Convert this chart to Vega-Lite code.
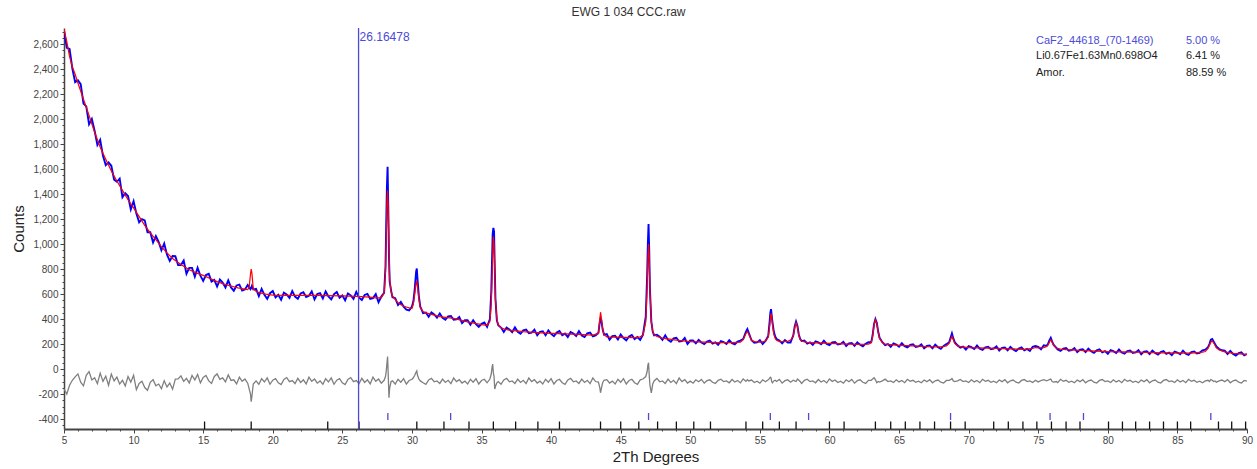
{
"$schema": "https://vega.github.io/schema/vega-lite/v6.json",
"width": 1183, "height": 401,
"autosize": "none",
"padding": {"left": 64, "top": 28, "right": 10, "bottom": 40},
"background": "white",
"title": {"text": "EWG 1 034 CCC.raw", "fontSize": 12, "font": "Liberation Sans", "fontWeight": "normal", "color": "#333", "offset": 8, "dx": -27},
"config": {"view": {"stroke": null}, "font": "Liberation Sans",
  "axis": {"labelFont": "Liberation Sans", "titleFont": "Liberation Sans", "labelColor": "#333", "titleColor": "#222", "titleFontWeight": "normal", "domainColor": "#444", "tickColor": "#444", "grid": false, "labelFontSize": 11, "labelOverlap": false}},
"datasets": {
"obs": [
{"x":5.0,"o":2710,"d":-160},{"x":5.2,"o":2571,"d":-200},{"x":5.4,"o":2563,"d":-130},{"x":5.6,"o":2406,"d":-90},{"x":5.8,"o":2297,"d":-63},{"x":6.0,"o":2311,"d":-39},{"x":6.2,"o":2281,"d":-105},{"x":6.4,"o":2125,"d":-135},{"x":6.6,"o":2102,"d":-51},{"x":6.8,"o":1960,"d":-21},{"x":7.0,"o":2002,"d":-87},{"x":7.2,"o":1907,"d":-69},{"x":7.4,"o":1794,"d":-117},{"x":7.6,"o":1835,"d":-33},{"x":7.8,"o":1707,"d":-99},{"x":8.0,"o":1632,"d":-57},{"x":8.2,"o":1654,"d":-130},{"x":8.4,"o":1627,"d":-40},{"x":8.6,"o":1516,"d":-95},{"x":8.8,"o":1499,"d":-65},{"x":9.0,"o":1524,"d":-120},{"x":9.2,"o":1376,"d":-90},{"x":9.4,"o":1408,"d":-135},{"x":9.6,"o":1385,"d":-60},{"x":9.8,"o":1278,"d":-105},{"x":10.0,"o":1344,"d":-50},
{"x":10.2,"o":1245,"d":-165},{"x":10.4,"o":1175,"d":-116},{"x":10.6,"o":1200,"d":-98},{"x":10.8,"o":1190,"d":-148},{"x":11.0,"o":1095,"d":-170},{"x":11.2,"o":1095,"d":-107},{"x":11.4,"o":1012,"d":-85},{"x":11.6,"o":1065,"d":-134},{"x":11.8,"o":1018,"d":-120},{"x":12.0,"o":950,"d":-157},{"x":12.2,"o":1005,"d":-93},{"x":12.4,"o":915,"d":-143},{"x":12.6,"o":865,"d":-112},{"x":12.8,"o":905,"d":-161},{"x":13.0,"o":903,"d":-80},{"x":13.2,"o":832,"d":-79},{"x":13.4,"o":832,"d":-55},{"x":13.6,"o":868,"d":-99},{"x":13.8,"o":763,"d":-75},{"x":14.0,"o":810,"d":-111},{"x":14.2,"o":810,"d":-51},{"x":14.4,"o":740,"d":-87},{"x":14.6,"o":810,"d":-43},{"x":14.8,"o":747,"d":-111},{"x":15.0,"o":705,"d":-67},
{"x":15.2,"o":752,"d":-51},{"x":15.4,"o":762,"d":-95},{"x":15.6,"o":700,"d":-115},{"x":15.8,"o":714,"d":-59},{"x":16.0,"o":660,"d":-39},{"x":16.2,"o":716,"d":-83},{"x":16.4,"o":692,"d":-71},{"x":16.6,"o":652,"d":-103},{"x":16.8,"o":710,"d":-47},{"x":17.0,"o":653,"d":-91},{"x":17.2,"o":627,"d":-86},{"x":17.4,"o":669,"d":-119},{"x":17.6,"o":676,"d":-65},{"x":17.8,"o":628,"d":-98},{"x":18.0,"o":636,"d":-80},{"x":18.2,"o":672,"d":-113},{"x":18.4,"o":640,"d":-200},{"x":18.45,"o":650,"d":-262},{"x":18.5,"o":665,"d":-220},{"x":18.6,"o":637,"d":-120},{"x":18.8,"o":642,"d":-95},{"x":19.0,"o":584,"d":-122},{"x":19.2,"o":642,"d":-77},{"x":19.4,"o":594,"d":-104},{"x":19.6,"o":562,"d":-71},{"x":19.8,"o":607,"d":-122},{"x":20.0,"o":624,"d":-89},
{"x":20.2,"o":573,"d":-77},{"x":20.4,"o":594,"d":-110},{"x":20.6,"o":555,"d":-125},{"x":20.8,"o":611,"d":-83},{"x":21.0,"o":597,"d":-68},{"x":21.2,"o":569,"d":-101},{"x":21.4,"o":625,"d":-92},{"x":21.6,"o":580,"d":-116},{"x":21.8,"o":562,"d":-74},{"x":22.0,"o":604,"d":-107},{"x":22.2,"o":615,"d":-86},{"x":22.4,"o":576,"d":-119},{"x":22.6,"o":586,"d":-65},{"x":22.8,"o":621,"d":-98},{"x":23.0,"o":558,"d":-80},{"x":23.2,"o":600,"d":-113},{"x":23.4,"o":607,"d":-95},{"x":23.6,"o":565,"d":-122},{"x":23.8,"o":621,"d":-77},{"x":24.0,"o":581,"d":-104},{"x":24.2,"o":557,"d":-71},{"x":24.4,"o":599,"d":-122},{"x":24.6,"o":616,"d":-89},{"x":24.8,"o":570,"d":-77},{"x":25.0,"o":589,"d":-110},{"x":25.2,"o":550,"d":-125},{"x":25.4,"o":605,"d":-83},{"x":25.6,"o":590,"d":-68},{"x":25.8,"o":562,"d":-101},{"x":26.0,"o":618,"d":-92},{"x":26.2,"o":571,"d":-116},{"x":26.4,"o":553,"d":-74},{"x":26.6,"o":593,"d":-107},{"x":26.8,"o":602,"d":-86},{"x":27.0,"o":561,"d":-119},{"x":27.2,"o":568,"d":-65},{"x":27.4,"o":600,"d":-98},{"x":27.6,"o":535,"d":-80},{"x":27.8,"o":580,"d":-113},
{"x":28.0,"o":610,"d":-90},{"x":28.1,"o":820,"d":-60},{"x":28.15,"o":1150,"d":-20},{"x":28.2,"o":1450,"d":40},{"x":28.25,"o":1620,"d":100},{"x":28.3,"o":1300,"d":-60},{"x":28.35,"o":900,"d":-230},{"x":28.4,"o":700,"d":-150},{"x":28.5,"o":630,"d":-100},{"x":28.6,"o":575,"d":-95},{"x":28.8,"o":567,"d":-120},{"x":29.0,"o":512,"d":-82},{"x":29.2,"o":537,"d":-105},{"x":29.4,"o":500,"d":-77},{"x":29.6,"o":475,"d":-120},{"x":29.8,"o":470,"d":-92},{"x":30.0,"o":500,"d":-82},{"x":30.1,"o":540,"d":-70},{"x":30.2,"o":640,"d":-50},{"x":30.3,"o":780,"d":-25},{"x":30.35,"o":805,"d":-15},{"x":30.4,"o":720,"d":-50},{"x":30.5,"o":580,"d":-80},{"x":30.6,"o":500,"d":-95},{"x":30.8,"o":448,"d":-110},
{"x":31.0,"o":452,"d":-122},{"x":31.2,"o":419,"d":-87},{"x":31.4,"o":453,"d":-75},{"x":31.6,"o":437,"d":-102},{"x":31.8,"o":411,"d":-95},{"x":32.0,"o":445,"d":-115},{"x":32.2,"o":410,"d":-80},{"x":32.4,"o":394,"d":-107},{"x":32.6,"o":421,"d":-90},{"x":32.8,"o":425,"d":-117},{"x":33.0,"o":395,"d":-72},{"x":33.2,"o":397,"d":-100},{"x":33.4,"o":416,"d":-85},{"x":33.6,"o":367,"d":-112},{"x":33.8,"o":390,"d":-97},{"x":34.0,"o":390,"d":-120},{"x":34.2,"o":355,"d":-82},{"x":34.4,"o":391,"d":-105},{"x":34.6,"o":359,"d":-77},{"x":34.8,"o":338,"d":-120},{"x":35.0,"o":362,"d":-92},{"x":35.2,"o":372,"d":-82},{"x":35.4,"o":338,"d":-110},
{"x":35.6,"o":400,"d":-80},{"x":35.7,"o":620,"d":-40},{"x":35.75,"o":850,"d":10},{"x":35.8,"o":1080,"d":40},{"x":35.85,"o":1130,"d":-30},{"x":35.9,"o":1100,"d":-60},{"x":35.95,"o":820,"d":-160},{"x":36.0,"o":560,"d":-140},{"x":36.1,"o":390,"d":-110},{"x":36.2,"o":350,"d":-100},
{"x":36.4,"o":332,"d":-122},{"x":36.6,"o":297,"d":-87},{"x":36.8,"o":332,"d":-75},{"x":37.0,"o":317,"d":-102},{"x":37.2,"o":295,"d":-95},{"x":37.4,"o":333,"d":-115},{"x":37.6,"o":298,"d":-80},{"x":37.8,"o":282,"d":-107},{"x":38.0,"o":310,"d":-90},{"x":38.2,"o":316,"d":-117},{"x":38.4,"o":287,"d":-72},{"x":38.6,"o":292,"d":-100},{"x":38.8,"o":315,"d":-85},{"x":39.0,"o":270,"d":-112},{"x":39.2,"o":298,"d":-97},{"x":39.4,"o":302,"d":-120},{"x":39.6,"o":270,"d":-82},{"x":39.8,"o":309,"d":-105},{"x":40.0,"o":281,"d":-77},{"x":40.2,"o":263,"d":-120},{"x":40.4,"o":292,"d":-92},{"x":40.6,"o":304,"d":-82},{"x":40.8,"o":271,"d":-110},{"x":41.0,"o":284,"d":-122},{"x":41.2,"o":256,"d":-87},{"x":41.4,"o":296,"d":-75},{"x":41.6,"o":285,"d":-102},{"x":41.8,"o":264,"d":-95},{"x":42.0,"o":303,"d":-115},{"x":42.2,"o":269,"d":-80},{"x":42.4,"o":256,"d":-107},{"x":42.6,"o":285,"d":-90},{"x":42.8,"o":291,"d":-117},{"x":43.0,"o":262,"d":-72},{"x":43.2,"o":270,"d":-100},
{"x":43.4,"o":290,"d":-105},{"x":43.5,"o":380,"d":-150},{"x":43.55,"o":405,"d":-190},{"x":43.6,"o":395,"d":-160},{"x":43.7,"o":320,"d":-110},{"x":43.8,"o":275,"d":-90},
{"x":44.0,"o":280,"d":-85},{"x":44.2,"o":235,"d":-112},{"x":44.4,"o":263,"d":-97},{"x":44.6,"o":267,"d":-120},{"x":44.8,"o":236,"d":-82},{"x":45.0,"o":276,"d":-105},{"x":45.2,"o":248,"d":-77},{"x":45.4,"o":230,"d":-120},{"x":45.6,"o":260,"d":-92},{"x":45.8,"o":272,"d":-82},{"x":46.0,"o":240,"d":-110},{"x":46.2,"o":256,"d":-122},{"x":46.4,"o":233,"d":-87},
{"x":46.6,"o":275,"d":-80},{"x":46.8,"o":420,"d":-60},{"x":46.9,"o":750,"d":-20},{"x":46.95,"o":1000,"d":30},{"x":47.0,"o":1160,"d":50},{"x":47.05,"o":950,"d":-50},{"x":47.1,"o":640,"d":-130},{"x":47.2,"o":380,"d":-190},{"x":47.3,"o":300,"d":-120},{"x":47.4,"o":270,"d":-95},
{"x":47.6,"o":275,"d":-75},{"x":47.8,"o":259,"d":-102},{"x":48.0,"o":233,"d":-95},{"x":48.2,"o":270,"d":-115},{"x":48.4,"o":233,"d":-80},{"x":48.6,"o":218,"d":-107},{"x":48.8,"o":245,"d":-90},{"x":49.0,"o":250,"d":-117},{"x":49.2,"o":220,"d":-72},{"x":49.4,"o":224,"d":-100},{"x":49.6,"o":248,"d":-85},{"x":49.8,"o":200,"d":-112},{"x":50.0,"o":228,"d":-97},
{"x":50.2,"o":228,"d":-113},{"x":50.4,"o":205,"d":-86},{"x":50.6,"o":233,"d":-102},{"x":50.8,"o":212,"d":-83},{"x":51.0,"o":199,"d":-113},{"x":51.2,"o":220,"d":-93},{"x":51.4,"o":228,"d":-86},{"x":51.6,"o":204,"d":-106},{"x":51.8,"o":214,"d":-115},{"x":52.0,"o":194,"d":-90},{"x":52.2,"o":223,"d":-81},{"x":52.4,"o":216,"d":-101},{"x":52.6,"o":201,"d":-95},{"x":52.8,"o":230,"d":-110},{"x":53.0,"o":207,"d":-84},{"x":53.2,"o":198,"d":-104},{"x":53.4,"o":219,"d":-92},{"x":53.6,"o":228,"d":-111},{"x":53.8,"o":240,"d":-79},{"x":54.0,"o":300,"d":-99},{"x":54.1,"o":320,"d":-85},{"x":54.2,"o":290,"d":-95},{"x":54.4,"o":230,"d":-88},{"x":54.6,"o":210,"d":-108},{"x":54.8,"o":213,"d":-97},{"x":55.0,"o":231,"d":-113},{"x":55.2,"o":200,"d":-86},{"x":55.4,"o":225,"d":-102},
{"x":55.6,"o":265,"d":-85},{"x":55.7,"o":380,"d":-75},{"x":55.75,"o":450,"d":-65},{"x":55.8,"o":480,"d":-70},{"x":55.85,"o":430,"d":-100},{"x":55.9,"o":380,"d":-110},{"x":56.0,"o":300,"d":-95},{"x":56.1,"o":260,"d":-90},{"x":56.2,"o":240,"d":-100},{"x":56.4,"o":229,"d":-83},{"x":56.6,"o":205,"d":-113},{"x":56.8,"o":232,"d":-93},{"x":57.0,"o":212,"d":-86},{"x":57.2,"o":212,"d":-106},{"x":57.4,"o":270,"d":-90},{"x":57.5,"o":340,"d":-95},{"x":57.6,"o":380,"d":-100},{"x":57.7,"o":345,"d":-80},{"x":57.8,"o":275,"d":-90},{"x":57.9,"o":240,"d":-100},
{"x":58.0,"o":224,"d":-115},{"x":58.2,"o":229,"d":-90},{"x":58.4,"o":204,"d":-81},{"x":58.6,"o":214,"d":-101},{"x":58.8,"o":193,"d":-95},{"x":59.0,"o":221,"d":-110},{"x":59.2,"o":213,"d":-84},{"x":59.4,"o":198,"d":-104},{"x":59.6,"o":226,"d":-92},{"x":59.8,"o":201,"d":-111},{"x":60.0,"o":192,"d":-79},{"x":60.2,"o":213,"d":-99},{"x":60.4,"o":217,"d":-88},{"x":60.6,"o":197,"d":-108},{"x":60.8,"o":201,"d":-97},{"x":61.0,"o":218,"d":-113},{"x":61.2,"o":185,"d":-86},{"x":61.4,"o":206,"d":-102},{"x":61.6,"o":209,"d":-83},{"x":61.8,"o":186,"d":-113},{"x":62.0,"o":214,"d":-93},{"x":62.2,"o":194,"d":-86},{"x":62.4,"o":182,"d":-106},{"x":62.6,"o":203,"d":-115},{"x":62.8,"o":214,"d":-90},
{"x":63.0,"o":215,"d":-90},{"x":63.1,"o":270,"d":-80},{"x":63.2,"o":360,"d":-70},{"x":63.3,"o":400,"d":-85},{"x":63.4,"o":370,"d":-110},{"x":63.5,"o":300,"d":-100},{"x":63.6,"o":250,"d":-105},{"x":63.8,"o":215,"d":-95},
{"x":64.0,"o":191,"d":-81},{"x":64.2,"o":200,"d":-100},{"x":64.4,"o":178,"d":-95},{"x":64.6,"o":205,"d":-108},{"x":64.8,"o":196,"d":-86},{"x":65.0,"o":179,"d":-103},{"x":65.2,"o":207,"d":-92},{"x":65.4,"o":183,"d":-109},{"x":65.6,"o":173,"d":-82},{"x":65.8,"o":193,"d":-98},{"x":66.0,"o":198,"d":-90},{"x":66.2,"o":177,"d":-106},{"x":66.4,"o":181,"d":-97},{"x":66.6,"o":198,"d":-110},{"x":66.8,"o":165,"d":-88},{"x":67.0,"o":185,"d":-101},{"x":67.2,"o":189,"d":-85},{"x":67.4,"o":166,"d":-110},{"x":67.6,"o":195,"d":-94},{"x":67.8,"o":174,"d":-88},{"x":68.0,"o":162,"d":-105},{"x":68.2,"o":185,"d":-112},{"x":68.4,"o":199,"d":-91},
{"x":68.6,"o":215,"d":-90},{"x":68.7,"o":250,"d":-85},{"x":68.8,"o":285,"d":-75},{"x":68.9,"o":245,"d":-95},{"x":69.0,"o":215,"d":-100},{"x":69.2,"o":190,"d":-95},
{"x":69.4,"o":171,"d":-84},{"x":69.6,"o":179,"d":-100},{"x":69.8,"o":156,"d":-95},{"x":70.0,"o":183,"d":-108},{"x":70.2,"o":175,"d":-86},{"x":70.4,"o":160,"d":-103},{"x":70.6,"o":188,"d":-92},{"x":70.8,"o":163,"d":-109},{"x":71.0,"o":154,"d":-82},{"x":71.2,"o":174,"d":-98},{"x":71.4,"o":179,"d":-90},{"x":71.6,"o":159,"d":-106},{"x":71.8,"o":164,"d":-97},{"x":72.0,"o":181,"d":-110},{"x":72.2,"o":148,"d":-88},{"x":72.4,"o":169,"d":-101},{"x":72.6,"o":172,"d":-85},{"x":72.8,"o":150,"d":-110},{"x":73.0,"o":177,"d":-94},{"x":73.2,"o":157,"d":-88},{"x":73.4,"o":144,"d":-105},{"x":73.6,"o":164,"d":-112},{"x":73.8,"o":173,"d":-91},{"x":74.0,"o":149,"d":-84},{"x":74.2,"o":161,"d":-100},{"x":74.4,"o":145,"d":-95},{"x":74.6,"o":178,"d":-108},{"x":74.8,"o":185,"d":-90},{"x":75.0,"o":178,"d":-103},{"x":75.2,"o":158,"d":-92},{"x":75.4,"o":190,"d":-85},{"x":75.6,"o":185,"d":-95},
{"x":75.7,"o":200,"d":-90},{"x":75.8,"o":230,"d":-85},{"x":75.9,"o":250,"d":-80},{"x":76.0,"o":220,"d":-100},{"x":76.1,"o":195,"d":-105},{"x":76.3,"o":170,"d":-100},
{"x":76.4,"o":157,"d":-109},{"x":76.6,"o":145,"d":-82},{"x":76.8,"o":164,"d":-98},{"x":77.0,"o":168,"d":-90},{"x":77.2,"o":147,"d":-106},{"x":77.4,"o":151,"d":-97},{"x":77.6,"o":168,"d":-110},{"x":77.8,"o":135,"d":-88},{"x":78.0,"o":155,"d":-101},{"x":78.2,"o":158,"d":-85},{"x":78.4,"o":136,"d":-110},{"x":78.6,"o":163,"d":-94},{"x":78.8,"o":142,"d":-88},{"x":79.0,"o":129,"d":-105},{"x":79.2,"o":149,"d":-112},{"x":79.4,"o":157,"d":-91},{"x":79.6,"o":133,"d":-84},{"x":79.8,"o":143,"d":-100},{"x":80.0,"o":122,"d":-95},
{"x":80.2,"o":151,"d":-108},{"x":80.4,"o":143,"d":-86},{"x":80.6,"o":128,"d":-103},{"x":80.8,"o":156,"d":-92},{"x":81.0,"o":132,"d":-109},{"x":81.2,"o":123,"d":-82},{"x":81.4,"o":144,"d":-98},{"x":81.6,"o":148,"d":-90},{"x":81.8,"o":128,"d":-106},{"x":82.0,"o":133,"d":-97},{"x":82.2,"o":151,"d":-110},{"x":82.4,"o":118,"d":-88},{"x":82.6,"o":139,"d":-101},{"x":82.8,"o":142,"d":-85},{"x":83.0,"o":120,"d":-110},{"x":83.2,"o":148,"d":-94},{"x":83.4,"o":128,"d":-88},{"x":83.6,"o":115,"d":-105},{"x":83.8,"o":135,"d":-112},{"x":84.0,"o":144,"d":-91},{"x":84.2,"o":121,"d":-84},{"x":84.4,"o":131,"d":-100},{"x":84.6,"o":111,"d":-95},{"x":84.8,"o":139,"d":-108},{"x":85.0,"o":132,"d":-86},{"x":85.2,"o":118,"d":-103},{"x":85.4,"o":147,"d":-92},{"x":85.6,"o":123,"d":-109},{"x":85.8,"o":114,"d":-82},{"x":86.0,"o":135,"d":-98},{"x":86.2,"o":141,"d":-90},{"x":86.4,"o":124,"d":-106},{"x":86.6,"o":130,"d":-97},{"x":86.8,"o":150,"d":-110},
{"x":87.0,"o":155,"d":-95},{"x":87.2,"o":175,"d":-90},{"x":87.3,"o":200,"d":-100},{"x":87.4,"o":235,"d":-85},{"x":87.5,"o":240,"d":-90},{"x":87.6,"o":220,"d":-100},{"x":87.7,"o":200,"d":-95},{"x":87.8,"o":180,"d":-105},{"x":88.0,"o":160,"d":-95},
{"x":88.2,"o":150,"d":-88},{"x":88.4,"o":147,"d":-101},{"x":88.6,"o":120,"d":-85},{"x":88.8,"o":145,"d":-110},{"x":89.0,"o":121,"d":-94},{"x":89.2,"o":108,"d":-88},{"x":89.4,"o":127,"d":-105},{"x":89.6,"o":134,"d":-112},{"x":89.8,"o":110,"d":-91},{"x":90.0,"o":120,"d":-97}
],
"calc": [
{"x":5.0,"c":2720},{"x":5.2,"c":2620},{"x":5.4,"c":2500},{"x":5.6,"c":2420},{"x":5.8,"c":2360},{"x":6.0,"c":2290},{"x":6.4,"c":2160},{"x":6.8,"c":2030},{"x":7.2,"c":1895},{"x":7.6,"c":1775},{"x":8.0,"c":1680},{"x":8.4,"c":1585},{"x":8.8,"c":1505},{"x":9.2,"c":1430},{"x":9.6,"c":1355},{"x":10.0,"c":1290},{"x":10.4,"c":1220},{"x":10.8,"c":1150},{"x":11.2,"c":1090},{"x":11.6,"c":1035},{"x":12.0,"c":980},{"x":12.4,"c":930},{"x":12.8,"c":885},{"x":13.2,"c":852},{"x":13.6,"c":823},{"x":14.0,"c":795},{"x":14.5,"c":770},{"x":15.0,"c":750},{"x":15.5,"c":725},{"x":16.0,"c":700},{"x":16.5,"c":680},{"x":17.0,"c":665},{"x":17.5,"c":650},{"x":18.0,"c":640},{"x":18.2,"c":636},{"x":18.3,"c":650},{"x":18.4,"c":760},{"x":18.45,"c":800},{"x":18.5,"c":770},{"x":18.6,"c":640},{"x":18.8,"c":622},{"x":19.0,"c":612},{"x":19.5,"c":600},{"x":20.0,"c":592},{"x":21.0,"c":590},{"x":22.0,"c":590},{"x":23.0,"c":590},{"x":24.0,"c":588},{"x":25.0,"c":585},{"x":26.0,"c":581},{"x":27.0,"c":575},{"x":27.4,"c":569},{"x":27.8,"c":570},{"x":28.0,"c":610},{"x":28.1,"c":780},{"x":28.15,"c":1050},{"x":28.2,"c":1320},{"x":28.25,"c":1430},{"x":28.3,"c":1280},{"x":28.35,"c":950},{"x":28.4,"c":720},{"x":28.5,"c":620},{"x":28.6,"c":585},{"x":28.8,"c":555},{"x":29.0,"c":530},{"x":29.2,"c":515},{"x":29.4,"c":505},{"x":29.6,"c":497},{"x":29.8,"c":490},{"x":30.0,"c":485},{"x":30.1,"c":520},{"x":30.2,"c":600},{"x":30.3,"c":690},{"x":30.35,"c":700},{"x":30.4,"c":660},{"x":30.5,"c":560},{"x":30.6,"c":490},{"x":30.8,"c":460},{"x":31.0,"c":450},{"x":32.0,"c":420},{"x":33.0,"c":405},{"x":34.0,"c":378},{"x":35.0,"c":355},{"x":35.4,"c":350},{"x":35.6,"c":380},{"x":35.7,"c":520},{"x":35.75,"c":700},{"x":35.8,"c":900},{"x":35.85,"c":1060},{"x":35.9,"c":1000},{"x":35.95,"c":780},{"x":36.0,"c":560},{"x":36.1,"c":400},{"x":36.2,"c":355},{"x":36.4,"c":330},{"x":36.6,"c":322},{"x":37.0,"c":312},{"x":38.0,"c":300},{"x":39.0,"c":292},{"x":40.0,"c":286},{"x":41.0,"c":282},{"x":42.0,"c":278},{"x":43.0,"c":272},{"x":43.4,"c":285},{"x":43.5,"c":400},{"x":43.55,"c":455},{"x":43.6,"c":420},{"x":43.7,"c":320},{"x":43.8,"c":275},{"x":44.0,"c":258},{"x":45.0,"c":254},{"x":46.0,"c":252},{"x":46.4,"c":258},{"x":46.6,"c":270},{"x":46.8,"c":380},{"x":46.9,"c":650},{"x":46.95,"c":870},{"x":47.0,"c":1000},{"x":47.05,"c":900},{"x":47.1,"c":620},{"x":47.2,"c":380},{"x":47.3,"c":300},{"x":47.4,"c":275},{"x":47.6,"c":260},{"x":48.0,"c":248},{"x":49.0,"c":232},{"x":50.0,"c":220},{"x":51.0,"c":215},{"x":52.0,"c":212},{"x":53.0,"c":212},{"x":53.6,"c":215},{"x":53.8,"c":235},{"x":54.0,"c":285},{"x":54.1,"c":300},{"x":54.2,"c":280},{"x":54.4,"c":230},{"x":54.6,"c":220},{"x":55.0,"c":215},{"x":55.4,"c":222},{"x":55.6,"c":255},{"x":55.7,"c":340},{"x":55.75,"c":400},{"x":55.8,"c":445},{"x":55.85,"c":420},{"x":55.9,"c":360},{"x":56.0,"c":280},{"x":56.1,"c":245},{"x":56.2,"c":230},{"x":56.4,"c":220},{"x":57.0,"c":222},{"x":57.2,"c":232},{"x":57.4,"c":260},{"x":57.5,"c":330},{"x":57.6,"c":370},{"x":57.7,"c":335},{"x":57.8,"c":265},{"x":57.9,"c":235},{"x":58.0,"c":222},{"x":58.4,"c":213},{"x":59.0,"c":210},{"x":60.0,"c":206},{"x":61.0,"c":202},{"x":62.0,"c":198},{"x":62.8,"c":200},{"x":63.0,"c":210},{"x":63.1,"c":260},{"x":63.2,"c":350},{"x":63.3,"c":395},{"x":63.4,"c":365},{"x":63.5,"c":295},{"x":63.6,"c":245},{"x":63.8,"c":212},{"x":64.0,"c":200},{"x":65.0,"c":190},{"x":66.0,"c":185},{"x":67.0,"c":180},{"x":68.0,"c":178},{"x":68.4,"c":185},{"x":68.6,"c":205},{"x":68.7,"c":235},{"x":68.8,"c":262},{"x":68.9,"c":235},{"x":69.0,"c":205},{"x":69.2,"c":185},{"x":69.4,"c":180},{"x":70.0,"c":172},{"x":72.0,"c":165},{"x":74.0,"c":158},{"x":74.6,"c":165},{"x":74.8,"c":172},{"x":75.0,"c":170},{"x":75.4,"c":172},{"x":75.6,"c":180},{"x":75.7,"c":192},{"x":75.8,"c":215},{"x":75.9,"c":235},{"x":76.0,"c":215},{"x":76.1,"c":192},{"x":76.3,"c":168},{"x":76.6,"c":159},{"x":77.0,"c":155},{"x":78.0,"c":150},{"x":80.0,"c":140},{"x":82.0,"c":135},{"x":84.0,"c":130},{"x":86.0,"c":128},{"x":86.8,"c":135},{"x":87.0,"c":140},{"x":87.2,"c":165},{"x":87.3,"c":190},{"x":87.4,"c":215},{"x":87.5,"c":225},{"x":87.6,"c":210},{"x":87.7,"c":190},{"x":87.8,"c":170},{"x":88.0,"c":152},{"x":88.4,"c":138},{"x":89.0,"c":125},{"x":90.0,"c":118}
],
"li": [{"x":15.1},{"x":18.45},{"x":23.95},{"x":26.2},{"x":30.35},{"x":32.3},{"x":34.1},{"x":35.85},{"x":37.45},{"x":39.05},{"x":40.6},{"x":43.55},{"x":45.0},{"x":46.3},{"x":47.65},{"x":49.0},{"x":50.25},{"x":51.45},{"x":54.0},{"x":55.2},{"x":56.4},{"x":57.6},{"x":60.0},{"x":61.05},{"x":63.3},{"x":64.4},{"x":65.45},{"x":66.5},{"x":67.55},{"x":68.7},{"x":69.75},{"x":71.8},{"x":72.85},{"x":73.9},{"x":74.9},{"x":75.95},{"x":77.0},{"x":78.0},{"x":80.05},{"x":81.05},{"x":82.0},{"x":83.0},{"x":84.0},{"x":85.0},{"x":85.95},{"x":87.95},{"x":88.9},{"x":89.9}],
"caf": [{"x":28.27},{"x":32.78},{"x":47.0},{"x":55.75},{"x":58.5},{"x":68.7},{"x":75.85},{"x":78.25},{"x":87.4}]
},
"layer": [
{"data": {"name": "obs"}, "mark": {"type": "line", "color": "#7f7f7f", "strokeWidth": 1.3, "clip": true},
 "encoding": {
  "x": {"field": "x", "type": "quantitative", "scale": {"domain": [5, 90], "nice": false, "zero": false},
    "axis": {"title": "2Th Degrees", "titleFontSize": 15, "titlePadding": 4, "tickCount": 200, "values": [5,6,7,8,9,10,11,12,13,14,15,16,17,18,19,20,21,22,23,24,25,26,27,28,29,30,31,32,33,34,35,36,37,38,39,40,41,42,43,44,45,46,47,48,49,50,51,52,53,54,55,56,57,58,59,60,61,62,63,64,65,66,67,68,69,70,71,72,73,74,75,76,77,78,79,80,81,82,83,84,85,86,87,88,89,90],
      "labelExpr": "datum.value % 5 === 0 ? '' + datum.value : ''", "labelOverlap": false, "labelBound": false, "labelFlush": false, "tickSize": {"condition": {"test": "datum.value % 5 === 0", "value": 4}, "value": 2}, "labelPadding": 2, "domainWidth": 2, "labelFontSize": 10, "labelColor": "#444"}},
  "y": {"field": "d", "type": "quantitative", "scale": {"domain": [-480, 2730], "nice": false, "zero": false},
    "axis": {"title": "Counts", "titleFontSize": 15, "titlePadding": 6, "tickCount": 200, "values": [-450,-400,-350,-300,-250,-200,-150,-100,-50,0,50,100,150,200,250,300,350,400,450,500,550,600,650,700,750,800,850,900,950,1000,1050,1100,1150,1200,1250,1300,1350,1400,1450,1500,1550,1600,1650,1700,1750,1800,1850,1900,1950,2000,2050,2100,2150,2200,2250,2300,2350,2400,2450,2500,2550,2600,2650,2700],
      "labelExpr": "datum.value % 200 === 0 ? (datum.value < 0 ? '-' : '') + format(abs(datum.value), ',') : ''", "labelOverlap": false, "labelBound": false, "labelFlush": false, "tickSize": {"condition": {"test": "datum.value % 200 === 0", "value": 4}, "value": 2}, "labelPadding": 2, "domainWidth": 1.5, "labelFontSize": 10, "labelColor": "#444"}}
 }},
{"data": {"name": "obs"}, "mark": {"type": "line", "color": "#0000ff", "strokeWidth": 1.9, "clip": true},
 "encoding": {"x": {"field": "x", "type": "quantitative"}, "y": {"field": "o", "type": "quantitative"}}},
{"data": {"name": "calc"}, "mark": {"type": "line", "color": "#ff0000", "strokeWidth": 1.2, "clip": true},
 "encoding": {"x": {"field": "x", "type": "quantitative"}, "y": {"field": "c", "type": "quantitative"}}},
{"data": {"name": "li"}, "mark": {"type": "rule", "color": "#111111", "strokeWidth": 1.3},
 "encoding": {"x": {"field": "x", "type": "quantitative"}, "y": {"datum": -480}, "y2": {"datum": -420}}},
{"data": {"name": "caf"}, "mark": {"type": "rule", "color": "#4b4bd6", "strokeWidth": 1.3},
 "encoding": {"x": {"field": "x", "type": "quantitative"}, "y": {"datum": -408}, "y2": {"datum": -352}}},
{"data": {"values": [{"pos": 26.16478}]}, "mark": {"type": "rule", "color": "#4b4bd6", "strokeWidth": 1.3},
 "encoding": {"x": {"field": "pos", "type": "quantitative"}, "y": {"datum": 2730}, "y2": {"datum": -480}}},
{"data": {"values": [{"pos": 26.16478, "t": "26.16478"}]}, "mark": {"type": "text", "color": "#4b4bd6", "fontSize": 12, "align": "left", "baseline": "middle", "dx": 1, "font": "Liberation Sans"},
 "encoding": {"x": {"field": "pos", "type": "quantitative"}, "y": {"datum": 2655}, "text": {"field": "t"}}},
{"data": {"values": [{"t": "CaF2_44618_(70-1469)"}]}, "mark": {"type": "text", "color": "#4b4bd6", "fontSize": 11, "align": "left", "baseline": "middle", "font": "Liberation Sans"},
 "encoding": {"x": {"datum": 74.84}, "y": {"datum": 2624}, "text": {"field": "t"}}},
{"data": {"values": [{"t": "5.00 %"}]}, "mark": {"type": "text", "color": "#4b4bd6", "fontSize": 11, "align": "left", "baseline": "middle", "font": "Liberation Sans"},
 "encoding": {"x": {"datum": 85.61}, "y": {"datum": 2624}, "text": {"field": "t"}}},
{"data": {"values": [{"t": ["Li0.67Fe1.63Mn0.698O4", "Amor."]}]}, "mark": {"type": "text", "color": "#222222", "fontSize": 11, "align": "left", "baseline": "top", "lineHeight": 17, "font": "Liberation Sans"},
 "encoding": {"x": {"datum": 74.84}, "y": {"datum": 2556}, "text": {"field": "t"}}},
{"data": {"values": [{"t": ["6.41 %", "88.59 %"]}]}, "mark": {"type": "text", "color": "#222222", "fontSize": 11, "align": "left", "baseline": "top", "lineHeight": 17, "font": "Liberation Sans"},
 "encoding": {"x": {"datum": 85.61}, "y": {"datum": 2556}, "text": {"field": "t"}}}
]
}
